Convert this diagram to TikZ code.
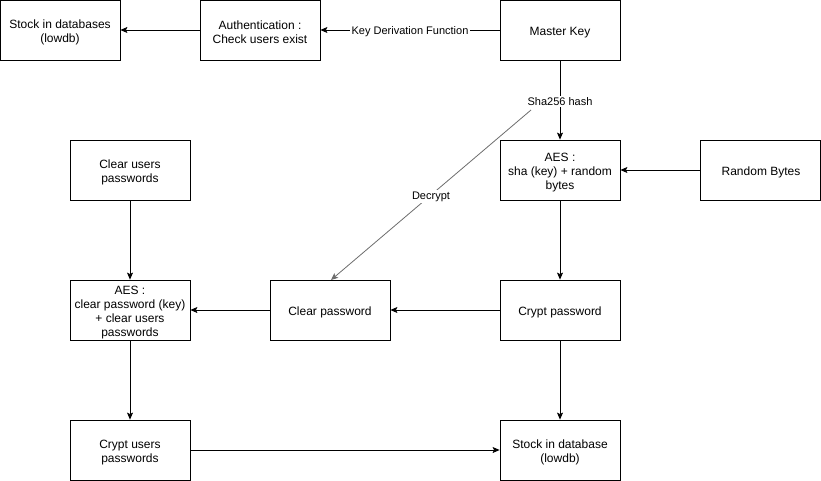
\documentclass[tikz,border=0pt]{standalone}
\usepackage{fontspec}
\setmainfont{Liberation Sans}
\usetikzlibrary{arrows.meta}
\begin{document}
\begin{tikzpicture}[x=1pt,y=-1pt,
  box/.style={draw=black,line width=0.8pt,minimum width=120pt,minimum height=60pt,inner sep=0pt},
  boxtxt/.style={align=center,inner sep=0pt,yshift=-2.5pt,font=\fontsize{12}{14}\selectfont},
  conn/.style={line width=0.8pt,-{Stealth[inset=1.5pt,length=7pt,width=6pt]}},
  lbl/.style={fill=white,inner sep=1.5pt,font=\fontsize{11}{13}\selectfont}]
\useasboundingbox (0,0) rectangle (821,481);
\node[box,label={[boxtxt]center:{Stock in databases\\(lowdb)}}] (stockdb) at (60,30) {};
\node[box,label={[boxtxt]center:{Authentication :\\Check users exist}}] (auth) at (260,30) {};
\node[box,label={[boxtxt]center:{Master Key}}] (master) at (560,30) {};
\node[box,label={[boxtxt]center:{Clear users\\passwords}}] (clearusers) at (130,170) {};
\node[box,label={[boxtxt]center:{AES :\\sha (key) + random\\bytes}}] (aessha) at (560,170) {};
\node[box,label={[boxtxt,xshift=1pt]center:{Random Bytes}}] (random) at (760,170) {};
\node[box,label={[boxtxt]center:{AES :\\clear password (key)\\+ clear users\\passwords}}] (aesclear) at (130,310) {};
\node[box,label={[boxtxt]center:{Clear password}}] (clearpw) at (330,310) {};
\node[box,label={[boxtxt]center:{Crypt password}}] (cryptpw) at (560,310) {};
\node[box,label={[boxtxt]center:{Crypt users\\passwords}}] (cryptusers) at (130,450) {};
\node[box,label={[boxtxt]center:{Stock in database\\(lowdb)}}] (stockdb2) at (560,450) {};

\draw[conn] (auth) -- (stockdb);
\draw[conn] (master) -- node[lbl,yshift=-1.5pt] {Key Derivation Function} (auth);
\draw[conn] (master) -- node[lbl,pos=0.51,yshift=-1pt] (sha) {Sha256 hash} (aessha);
\draw[conn] (random) -- (aessha);
\draw[conn] (aessha) -- (cryptpw);
\draw[conn] (cryptpw) -- (clearpw);
\draw[conn] (clearpw) -- (aesclear);
\draw[conn] (clearusers) -- (aesclear);
\draw[conn] (aesclear) -- (cryptusers);
\draw[conn] (cryptusers) -- (stockdb2);
\draw[conn] (cryptpw) -- (stockdb2);
\coordinate (decstart) at (531,110);
\draw[conn,draw=gray!85!black] (decstart) -- node[lbl,pos=0.5,yshift=-1.5pt] {Decrypt} (331,280);
\end{tikzpicture}
\end{document}
